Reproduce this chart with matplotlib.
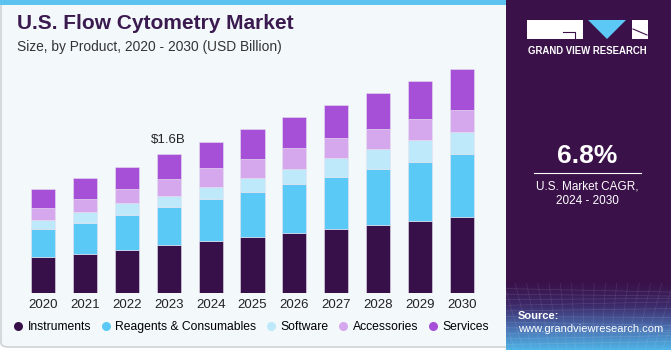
import matplotlib.pyplot as plt
from matplotlib.patches import Rectangle, FancyBboxPatch, Polygon
from matplotlib.lines import Line2D
from matplotlib.colors import LinearSegmentedColormap
import numpy as np

plt.rcParams['font.family'] = ['Liberation Sans', 'DejaVu Sans']

years = ['2020', '2021', '2022', '2023', '2024', '2025', '2026', '2027', '2028', '2029', '2030']
instruments = [0.414, 0.456, 0.498, 0.560, 0.602, 0.645, 0.694, 0.737, 0.790, 0.832, 0.878]
reagents = [0.326, 0.353, 0.406, 0.434, 0.483, 0.521, 0.564, 0.602, 0.641, 0.679, 0.725]
software = [0.107, 0.123, 0.131, 0.130, 0.135, 0.161, 0.173, 0.219, 0.230, 0.250, 0.253]
accessories = [0.135, 0.150, 0.165, 0.196, 0.219, 0.219, 0.238, 0.234, 0.234, 0.245, 0.257]
services = [0.219, 0.242, 0.253, 0.281, 0.299, 0.342, 0.364, 0.373, 0.414, 0.437, 0.465]

series = [
    ('Instruments', instruments, '#37104a'),
    ('Reagents & Consumables', reagents, '#5bc9f6'),
    ('Software', software, '#bee9fa'),
    ('Accessories', accessories, '#d5a7ec'),
    ('Services', services, '#a550d7'),
]
label_year = 3
label_text = '$1.6B'

W, H = 671, 350
fig = plt.figure(figsize=(W / 100, H / 100), dpi=100)
fig.patch.set_facecolor('white')


def fx(x):
    return x / W


def fy(y):
    return 1 - y / H


# left panel background
fig.patches.append(FancyBboxPatch((fx(1), fy(347)), fx(520), fy(2) - fy(347),
                                  boxstyle='round,pad=0,rounding_size=0.012',
                                  transform=fig.transFigure, facecolor='#f3f8fb',
                                  edgecolor='#cfd3d6', linewidth=1.2, zorder=0.5))
fig.patches.append(Rectangle((0, fy(5)), fx(507), fy(0) - fy(5), transform=fig.transFigure,
                             facecolor='#5bc3ee', edgecolor='none', zorder=0.6))

# right panel
grad = np.linspace(0, 1, 200).reshape(-1, 1)
pan = fig.add_axes([fx(506), 0.0, 1 - fx(506), 1.0])
pan.set_zorder(1)
pan.axis('off')
pan.add_patch(Rectangle((0, 0), 1, 1, facecolor='#3a1149', edgecolor='none', zorder=0))
cmap = LinearSegmentedColormap.from_list('g', ['#4fb4e6', '#4a6fb0', '#3d2a6a', '#3a1149'])
top = 1 - 283 / H
pan.imshow(grad, extent=[0, 1, 0, top], aspect='auto', cmap=cmap, origin='lower', zorder=1)
for k in range(12):
    yy = top * k / 12
    pan.plot([0, 1], [yy, yy + 0.01 * np.sin(k)], color='white', alpha=0.12, lw=0.5, zorder=2)
for k in range(20):
    xx = k / 19
    pan.plot([xx, xx + (xx - 0.5) * 0.3], [0, top], color='white', alpha=0.1, lw=0.5, zorder=2)
pan.set_xlim(0, 1)
pan.set_ylim(0, 1)

# logo
fig.patches.append(Rectangle((fx(527), fy(39)), fx(56), fy(20) - fy(39), transform=fig.transFigure,
                             facecolor='white', edgecolor='none', zorder=5))
fig.patches.append(Polygon([(fx(588), fy(20)), (fx(626), fy(20)), (fx(607), fy(39))],
                           closed=True, transform=fig.transFigure, facecolor='#5bc8f5',
                           edgecolor='none', zorder=5))
fig.patches.append(Rectangle((fx(632), fy(39)), fx(16), fy(20) - fy(39), transform=fig.transFigure,
                             facecolor='white', edgecolor='none', zorder=5))
fig.lines.append(Line2D([fx(563), fx(575), fx(575)], [fy(32), fy(32), fy(39)],
                        transform=fig.transFigure, color='#3a1149', lw=0.8, zorder=6))
fig.lines.append(Line2D([fx(633), fx(647)], [fy(29), fy(35)],
                        transform=fig.transFigure, color='#3a1149', lw=0.8, zorder=6))
fig.text(fx(587.5), fy(51), 'GRAND VIEW RESEARCH', color='white', fontsize=6.9,
         fontweight='bold', ha='center', va='center', zorder=6)

fig.text(fx(587), fy(156), '6.8%', color='white', fontsize=19, fontweight='bold',
         ha='center', va='center', zorder=6)
fig.lines.append(Line2D([fx(534), fx(641)], [fy(173), fy(173)], transform=fig.transFigure,
                        color='white', lw=0.8, zorder=6))
fig.text(fx(587), fy(186), 'U.S. Market CAGR,', color='white', fontsize=8.5,
         ha='center', va='center', zorder=6)
fig.text(fx(587), fy(201), '2024 - 2030', color='white', fontsize=8.5,
         ha='center', va='center', zorder=6)
fig.text(fx(518), fy(316), 'Source:', color='white', fontsize=8, fontweight='bold',
         ha='left', va='center', zorder=6)
fig.text(fx(518), fy(329), 'www.grandviewresearch.com', color='white', fontsize=8,
         ha='left', va='center', zorder=6)

# titles
fig.text(fx(17), fy(29), 'U.S. Flow Cytometry Market', color='#3a1a4f', fontsize=15,
         fontweight='bold', ha='left', va='baseline')
fig.text(fx(17), fy(51), 'Size, by Product, 2020 - 2030 (USD Billion)', color='#333333',
         fontsize=9.9, ha='left', va='baseline')

# chart
scale = 0.01151
ax = fig.add_axes([fx(20), fy(293.3), fx(485) - fx(20), fy(60) - fy(293.3)])
ax.set_zorder(2)
ax.set_facecolor('none')
x = np.arange(len(years))
bottom = np.zeros(len(years))
for name, vals, col in series:
    ax.bar(x, vals, 0.573, bottom=bottom, color=col, edgecolor='#e8e0f0', linewidth=0.4,
           label=name)
    bottom += np.array(vals)
ax.set_xlim(-0.549, 10.549)
ax.set_ylim(0, 233.3 * scale)
ax.set_xticks(x)
ax.set_xticklabels(years, fontsize=9.5, color='#222222')
ax.tick_params(axis='x', length=0, pad=4)
ax.set_yticks([])
for s in ax.spines.values():
    s.set_visible(False)
ax.text(label_year, bottom[label_year] + 0.1, label_text, ha='center', va='bottom',
        fontsize=9.5, color='#222222')

handles = [Line2D([], [], marker='o', linestyle='none', markersize=6.5, color=c,
                  markeredgecolor='none') for _, _, c in series]
leg = fig.legend(handles, [n for n, _, _ in series], loc='center left',
                 bbox_to_anchor=(fx(7), fy(327)), ncol=5, frameon=False, fontsize=8.7,
                 handletextpad=0.3, columnspacing=0.7, handlelength=1.0, borderaxespad=0)
leg.set_zorder(3)

fig.savefig('out.png', dpi=100, facecolor='white')
